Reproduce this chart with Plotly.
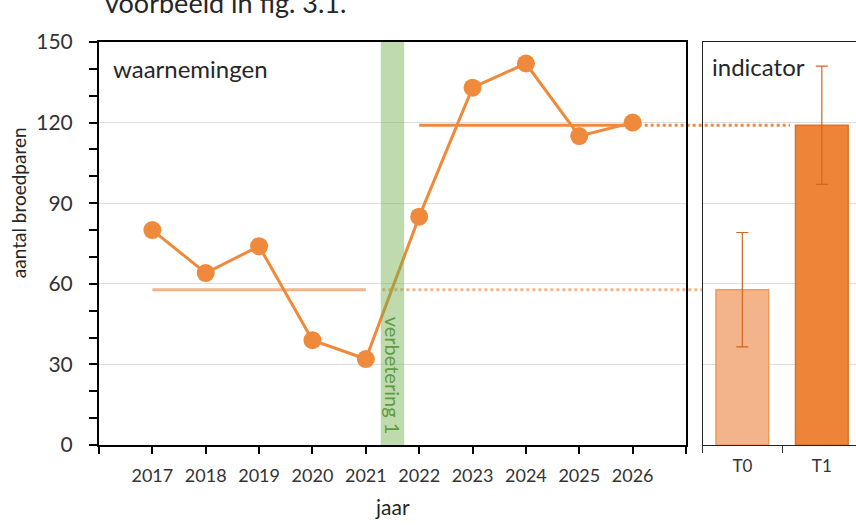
import plotly.graph_objects as go

# waarnemingen per jaar
jaren = [2017, 2018, 2019, 2020, 2021, 2022, 2023, 2024, 2025, 2026]
aantallen = [80, 64, 74, 39, 32, 85, 133, 142, 115, 120]

# perioden voor en na de verbetering
periode_t0 = [2017, 2021]
periode_t1 = [2022, 2026]
verbetering_jaar = [2021.28, 2021.72]

# indicator
indicator_labels = ['T0', 'T1']
indicator_fout = [21.3, 22.0]

jaar_ticks = list(range(2016, 2028))
jaar_tekst = [str(j) if j in jaren else '' for j in jaar_ticks]

t0 = sum(aantallen[:5]) / 5
t1 = sum(aantallen[5:]) / 5
indicator_waarden = [t0, t1]

ORANJE = '#EF8A3C'
LICHT = '#F4B48A'
FONT = 'Lato'

W, H = 856, 528
L, R, T, B = 99, 0, 42, 83
pw = W - L - R
dom1 = [0, (686 - L) / pw]
dom2 = [(702.6 - L) / pw, 1]


def jaar_naar_paper(j):
    return dom1[0] + (j - 2016) / 11 * (dom1[1] - dom1[0])


fig = go.Figure()

fig.add_trace(go.Scatter(x=periode_t0, y=[t0, t0], mode='lines',
                         line=dict(color=LICHT, width=3), hoverinfo='skip'))
fig.add_trace(go.Scatter(x=periode_t1, y=[t1, t1], mode='lines',
                         line=dict(color=ORANJE, width=3), hoverinfo='skip'))
fig.add_trace(go.Scatter(x=jaren, y=aantallen, mode='lines+markers',
                         line=dict(color=ORANJE, width=3),
                         marker=dict(color=ORANJE, size=18)))

fig.add_trace(go.Bar(x=indicator_labels, y=indicator_waarden, xaxis='x2', yaxis='y2',
                     width=0.663,
                     marker=dict(color=[LICHT, '#ED8438'],
                                 line=dict(color=['#F09A5C', '#D9722A'], width=1.5)),
                     error_y=dict(type='data', array=indicator_fout, color='#D0661F',
                                  thickness=1.2, width=6)))

# stippellijnen naar de indicator
fig.add_shape(type='line', xref='paper', yref='y', layer='below',
              x0=jaar_naar_paper(verbetering_jaar[0] + 0.03), x1=dom2[0], y0=t0, y1=t0,
              line=dict(color=LICHT, width=3, dash='dot'))
fig.add_shape(type='line', xref='paper', yref='y', layer='below',
              x0=jaar_naar_paper(periode_t1[1]), x1=(790 - L) / pw, y0=t1, y1=t1,
              line=dict(color=ORANJE, width=3, dash='dot'))

# verbetering 1
fig.add_shape(type='rect', xref='x', yref='y', layer='above',
              x0=verbetering_jaar[0], x1=verbetering_jaar[1], y0=0, y1=150,
              fillcolor='#70AD47', opacity=0.45, line=dict(width=0))

fig.add_annotation(x=sum(verbetering_jaar) / 2, y=26, xref='x', yref='y',
                   xanchor='center', yanchor='middle',
                   text='verbetering 1', textangle=90, showarrow=False,
                   font=dict(family=FONT, size=20, color='#5E9B43'))
fig.add_annotation(x=0, y=1, xref='x domain', yref='y domain', xanchor='left',
                   yanchor='middle', xshift=12, yshift=-26, showarrow=False,
                   text='waarnemingen', font=dict(family=FONT, size=24, color='#262626'))
fig.add_annotation(x=0, y=1, xref='x2 domain', yref='y2 domain', xanchor='left',
                   yanchor='middle', xshift=7, yshift=-24, showarrow=False,
                   text='indicator', font=dict(family=FONT, size=24, color='#262626'))
fig.add_annotation(x=0.5, y=0, xref='x domain', yref='paper', xanchor='center',
                   yanchor='middle', yshift=-61, showarrow=False, text='jaar',
                   font=dict(family=FONT, size=21, color='#262626'))
fig.add_annotation(x=(18 - L) / pw, y=0.6, xref='paper', yref='y domain',
                   xanchor='center', yanchor='middle',
                   textangle=-90, showarrow=False, text='aantal broedparen',
                   font=dict(family=FONT, size=19, color='#262626'))
fig.add_annotation(x=(103 - L) / pw, y=1, xref='paper', yref='paper', xanchor='left',
                   yanchor='middle', yshift=40, showarrow=False,
                   text='voorbeeld in fig. 3.1.',
                   font=dict(family=FONT, size=27, color='#262626'))

fig.update_layout(
    width=W, height=H,
    margin=dict(l=L, r=R, t=T, b=B),
    paper_bgcolor='white', plot_bgcolor='rgba(0,0,0,0)',
    showlegend=False,
    font=dict(family=FONT, color='#404040'),
    xaxis=dict(domain=dom1, range=[2016, 2027], tickvals=jaar_ticks, ticktext=jaar_tekst,
               ticks='outside', ticklen=7, tickwidth=1.5, tickcolor='black',
               showline=True, linecolor='black', linewidth=2, mirror=True,
               showgrid=False, zeroline=False, tickfont=dict(size=18, color='#333333'),
               ticklabelstandoff=6),
    yaxis=dict(domain=[0, 1], range=[0, 150], dtick=30, ticks='outside', ticklen=8,
               tickwidth=1.5, tickcolor='black',
               minor=dict(dtick=10, ticks='outside', ticklen=8, tickcolor='black',
                          showgrid=False),
               showline=True, linecolor='black', linewidth=2, mirror=True,
               showgrid=True, gridcolor='#DDDDDD', gridwidth=1, zeroline=False,
               tickfont=dict(size=21, color='#333333'), ticklabelstandoff=12),
    xaxis2=dict(domain=dom2, anchor='y2', range=[-0.5, 1.43], type='category',
                tickson='boundaries', ticks='outside', ticklen=7, tickcolor='#333333',
                showline=True, linecolor='#222222', linewidth=1, mirror=True,
                showgrid=False, tickfont=dict(size=17, color='#333333'),
                ticklabelstandoff=6),
    yaxis2=dict(domain=[0, 1], anchor='x2', range=[0, 150], dtick=30,
                showticklabels=False, ticks='', showline=True, linecolor='#222222',
                linewidth=1, showgrid=True, gridcolor='#DDDDDD', zeroline=False),
)

# pagina zonder witrand, zodat de grafiek op (0,0) begint
fig.write_html("out.html", config={'displayModeBar': False},
               post_script="document.body.style.margin='0px';")
